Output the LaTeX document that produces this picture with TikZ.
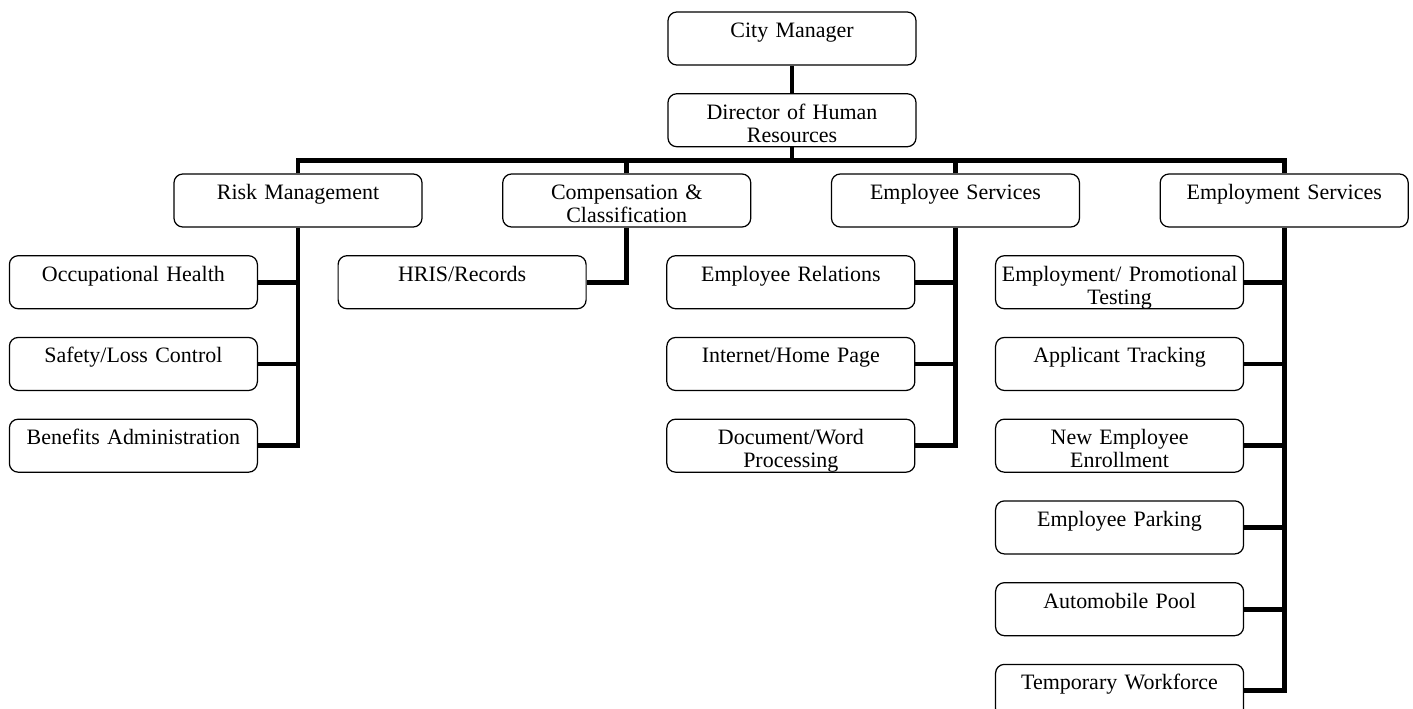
\documentclass[tikz,border=0pt]{standalone}
\usepackage{fontspec}
\setmainfont{Liberation Serif}
\usetikzlibrary{positioning}

\begin{document}
\begin{tikzpicture}[font=\fontsize{12.5}{13.2}\selectfont,
    node distance=5.5mm and 15.9mm,
    unit/.style={draw,line width=0.7pt,rounded corners=5pt,inner xsep=0pt,
                 inner ysep=0pt,text width=49.6mm,align=center,
                 text height=5.1mm,text depth=5.5mm},
    link/.style={line width=2.8pt}]
  \useasboundingbox (0,0) rectangle (28.26,-14.18);

  \node[unit] (city) at (15.84,-0.77) {City Manager};
  \node[unit,below=of city] (dir) {Director of Human\\Resources};

  \node[unit] (risk) at (5.96,-4.01) {Risk Management};
  \node[unit,right=of risk] (comp) {Compensation \&\\Classification};
  \node[unit,right=of comp] (emps) {Employee Services};
  \node[unit,right=of emps] (empl) {Employment Services};

  % risk management
  \node[unit,below left=5.5mm and 8mm of risk.south] (occ) {Occupational Health};
  \node[unit,below=of occ] (safety) {Safety/Loss Control};
  \node[unit,below=of safety] (benefits) {Benefits Administration};

  % compensation
  \node[unit,below left=5.5mm and 8mm of comp.south] (hris) {HRIS/Records};

  % employee services
  \node[unit,below left=5.5mm and 8mm of emps.south] (relations) {Employee Relations};
  \node[unit,below=of relations] (web) {Internet/Home Page};
  \node[unit,below=of web] (docs) {Document/Word\\Processing};

  % employment services
  \node[unit,below left=5.5mm and 8mm of empl.south] (testing) {Employment/ Promotional\\Testing};
  \node[unit,below=of testing] (tracking) {Applicant Tracking};
  \node[unit,below=of tracking] (enroll) {New Employee\\Enrollment};
  \node[unit,below=of enroll] (parking) {Employee Parking};
  \node[unit,below=of parking] (motorpool) {Automobile Pool};
  \node[unit,below=of motorpool] (temps) {Temporary Workforce};

  \coordinate (bus) at ([yshift=-2.6mm]dir.south);
  \draw[link] (city) -- (dir);
  \draw[link] (dir.south) -- (bus);
  \draw[link] (risk.north) |- (bus) -| (empl.north);
  \draw[link] (comp.north) -- (comp.north |- bus);
  \draw[link] (emps.north) -- (emps.north |- bus);

  \draw[link] (risk.south) |- (benefits.east);
  \foreach \c in {occ,safety}
    \draw[link] (\c.east) -- (\c.east -| risk.south);
  \draw[link] (comp.south) |- (hris.east);
  \draw[link] (emps.south) |- (docs.east);
  \foreach \c in {relations,web}
    \draw[link] (\c.east) -- (\c.east -| emps.south);
  \draw[link] (empl.south) |- (temps.east);
  \foreach \c in {testing,tracking,enroll,parking,motorpool}
    \draw[link] (\c.east) -- (\c.east -| empl.south);
\end{tikzpicture}
\end{document}
